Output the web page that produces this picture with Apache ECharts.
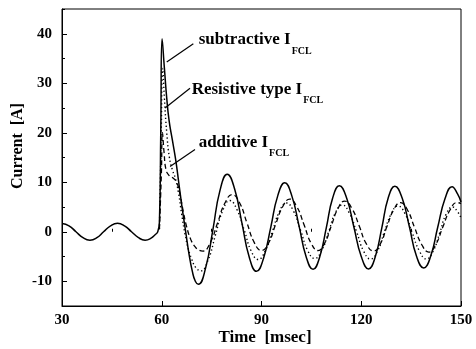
<!DOCTYPE html>
<html>
<head>
<meta charset="utf-8">
<script src="https://cdn.jsdelivr.net/npm/echarts@6/dist/echarts.min.js"></script>
<style>html,body{margin:0;padding:0;background:#fff}#c{width:476px;height:349px}</style>
</head>
<body>
<div id="c"></div>
<script>
// ---- data ----
const xTicks = [30, 60, 90, 120, 150];
const yTicks = [-10, 0, 10, 20, 30, 40];
const yMinorTicks = [-15, -5, 5, 15, 25, 35, 45];
const xMinorTicks = [45, 75, 105, 135];

// subtractive I_FCL (solid)
const subT = [30, 32.1, 34.2, 36.3, 38.4, 40.5, 42.5, 44.6, 46.7, 48.8, 50.9, 53.0, 55.0, 56.8, 58.0, 58.8, 59.3, 59.7, 60.1,
  60.8, 61.5, 62.2, 63.2, 64.2, 65.2, 66.2, 67.2, 68.2, 69.2, 70.1, 71.0,
  73.2, 75.4, 77.5, 79.7, 81.9, 84.1, 86.3, 88.5, 90.6, 92.8, 94.9, 97.0, 99.1, 101.3, 103.4, 105.5,
  107.5, 109.5, 111.4, 113.4, 115.6, 117.8, 120.0, 122.2, 124.2, 126.2, 128.1, 130.1, 132.3, 134.5, 136.6, 138.8,
  140.9, 143.0, 145.2, 147.3, 149.0, 150];
const subV = [1.65, 1.2, 0, -1.2, -1.7, -1.2, 0, 1.2, 1.7, 1.2, 0, -1.2, -1.7, -1.3, -0.6, 0, 2, 20, 39,
  33, 27, 22.5, 18.5, 14.5, 9.5, 4.5, 0, -4.5, -8, -10, -10.6,
  -7.3, 0.5, 8.3, 11.6, 8.7, 1.8, -5.1, -8.0, -5.4, 0.95, 7.3, 9.9, 7.3, 1.15, -5.0, -7.6,
  -5.1, 0.85, 6.8, 9.3, 6.8, 0.9, -5.0, -7.5, -5.1, 0.85, 6.8, 9.2, 6.8, 0.95, -4.9, -7.3,
  -4.9, 0.9, 6.7, 9.1, 7.6, 6.0];

// Resistive type I_FCL (dotted)
const resT = [59.3, 59.8, 60.3, 60.8, 61.5, 62.3, 63.2, 64.0, 65.0, 66.0, 67.0, 68.0, 69.0, 70.2, 71.7,
  73.9, 76.1, 78.3, 80.5, 82.6, 84.8, 86.9, 89.0, 91.1, 93.3, 95.4, 97.5, 99.6, 101.8, 103.9, 106.0,
  108.1, 110.2, 112.2, 114.3, 116.4, 118.6, 120.7, 122.8, 124.9, 126.9, 129.0, 131.0, 133.2, 135.3, 137.5, 139.6,
  141.6, 143.6, 145.5, 147.5, 149.0, 150];
const resV = [0.5, 18, 33, 27, 20, 15, 12.5, 11, 8, 3.5, -0.5, -3.5, -5.5, -7.2, -7.9,
  -5.8, -0.8, 4.2, 6.3, 4.5, 0.35, -3.9, -5.6, -3.9, 0.1, 4.1, 5.8, 4.2, 0.2, -3.8, -5.4,
  -3.8, 0, 3.8, 5.4, 3.8, 0, -3.9, -5.5, -3.9, -0.15, 3.6, 5.2, 3.6, -0.15, -3.9, -5.5,
  -3.95, -0.25, 3.5, 5.0, 4.0, 2.8];

// additive I_FCL (dashed)
const addT = [59.3, 59.9, 60.2, 60.7, 61.3, 62.3, 63.5, 64.5, 65.5, 66.5, 67.5, 68.7, 70.0, 71.2, 72.4,
  74.6, 76.8, 79.0, 81.2, 83.4, 85.6, 87.8, 90.0, 92.1, 94.2, 96.4, 98.5, 100.6, 102.8, 104.9, 107.0,
  109.0, 111.0, 113.0, 115.0, 117.2, 119.4, 121.5, 123.7, 125.7, 127.7, 129.8, 131.8, 133.9, 136.0, 138.2, 140.3,
  142.4, 144.5, 146.7, 148.8, 150];
const addV = [0.5, 12, 20, 16, 12.5, 11.3, 10.8, 10, 7.5, 4, 1, -1.5, -3, -3.7, -3.9,
  -2.2, 1.8, 5.8, 7.5, 5.85, 1.85, -2.15, -3.8, -2.3, 1.4, 5.1, 6.6, 5.1, 1.4, -2.3, -3.8,
  -2.3, 1.2, 4.7, 6.2, 4.7, 1.15, -2.4, -3.9, -2.5, 1.0, 4.5, 5.9, 4.4, 0.9, -2.6, -4.1,
  -2.6, 0.9, 4.4, 5.9, 5.7];

// annotations (data coordinates)
const annNames = ['subtractive', 'Resistive type', 'additive'];
const annText = [[71.1, 38.3], [69.0, 28.3], [71.1, 17.6]];
const annLine = [[[69.5, 38.0], [61.5, 34.3]], [[68.5, 29.0], [61.0, 25.0]], [[70.0, 16.6], [62.5, 13.2]]];

const zip = (t, v) => t.map((x, i) => [x, v[i]]);
const FONT = '"Liberation Serif", "DejaVu Serif", serif';

const chart = echarts.init(document.getElementById('c'), null, {renderer: 'canvas'});
const axisLbl = {color: '#000', fontFamily: FONT, fontWeight: 'bold', fontSize: 15};
const option = {
  animation: false,
  backgroundColor: '#fff',
  grid: {left: 62, right: 15, top: 9, bottom: 43, show: true, borderColor: '#000', borderWidth: 1, backgroundColor: 'transparent'},
  xAxis: [{
    type: 'value', min: 30, max: 150, interval: 30,
    axisLine: {show: true, onZero: false, lineStyle: {color: '#000', width: 1}},
    axisTick: {show: true, inside: true, length: 5, lineStyle: {color: '#000'}},
    axisLabel: Object.assign({margin: 7, formatter: v => xTicks.includes(v) ? String(v) : ''}, axisLbl),
    splitLine: {show: false}
  }, {
    type: 'value', min: 30, max: 150, position: 'bottom',
    axisLine: {show: false},
    axisTick: {show: true, inside: true, length: 3, customValues: xMinorTicks, lineStyle: {color: '#000'}},
    axisLabel: {show: false}, splitLine: {show: false}
  }],
  yAxis: [{
    type: 'value', min: -15, max: 45,
    axisLine: {show: true, onZero: false, lineStyle: {color: '#000', width: 1}},
    axisTick: {show: true, inside: true, length: 5, customValues: yTicks, lineStyle: {color: '#000'}},
    axisLabel: Object.assign({margin: 10, customValues: yTicks}, axisLbl),
    splitLine: {show: false}
  }, {
    type: 'value', min: -15, max: 45, position: 'left',
    axisLine: {show: false},
    axisTick: {show: true, inside: true, length: 3, customValues: yMinorTicks, lineStyle: {color: '#000'}},
    axisLabel: {show: false}, splitLine: {show: false}
  }],
  series: [
    {name: 'subtractive I_FCL', type: 'line', data: zip(subT, subV), showSymbol: false, smooth: 0.5,
     lineStyle: {color: '#000', width: 1.5, type: 'solid'}, z: 3},
    {name: 'additive I_FCL', type: 'line', data: zip(addT, addV), showSymbol: false, smooth: 0.5,
     lineStyle: {color: '#000', width: 1.3, type: [5, 3]}, z: 2},
    {name: 'Resistive type I_FCL', type: 'line', data: zip(resT, resV), showSymbol: false, smooth: 0.5,
     lineStyle: {color: '#000', width: 1.4, type: [1.3, 2.6]}, z: 2}
  ]
};
chart.setOption(option);

const gridRect = chart.getModel().getComponent('grid').coordinateSystem.getRect();
const toPx = p => chart.convertToPixel({xAxisIndex: 0, yAxisIndex: 0}, p);
const graphics = [];
annNames.forEach((n, i) => {
  const a = toPx(annLine[i][0]), b = toPx(annLine[i][1]);
  graphics.push({type: 'line', shape: {x1: a[0], y1: a[1], x2: b[0], y2: b[1]}, style: {stroke: '#000', lineWidth: 1.2}, z: 10});
  const t = toPx(annText[i]);
  graphics.push({type: 'text', x: t[0], y: t[1] - 11, z: 10, style: {
    text: '{m|' + n + ' I}{s|FCL}', fill: '#000',
    rich: {
      m: {fontFamily: FONT, fontWeight: 'bold', fontSize: 17, fill: '#000', lineHeight: 22, verticalAlign: 'top'},
      s: {fontFamily: FONT, fontWeight: 'bold', fontSize: 10, fill: '#000', lineHeight: 22, verticalAlign: 'top', padding: [15, 0, 0, 1]}
    }
  }});
});
graphics.push({type: 'text', x: 18, y: 146, rotation: Math.PI / 2, z: 10, style: {
  text: 'Current  [A]', fill: '#000', font: 'bold 16px ' + FONT, align: 'center', verticalAlign: 'middle'}});
graphics.push({type: 'text', x: 265, y: 338, z: 10, style: {
  text: 'Time  [msec]', fill: '#000', font: 'bold 17px ' + FONT, align: 'center', verticalAlign: 'middle'}});
chart.setOption({graphic: graphics});
</script>
</body>
</html>
